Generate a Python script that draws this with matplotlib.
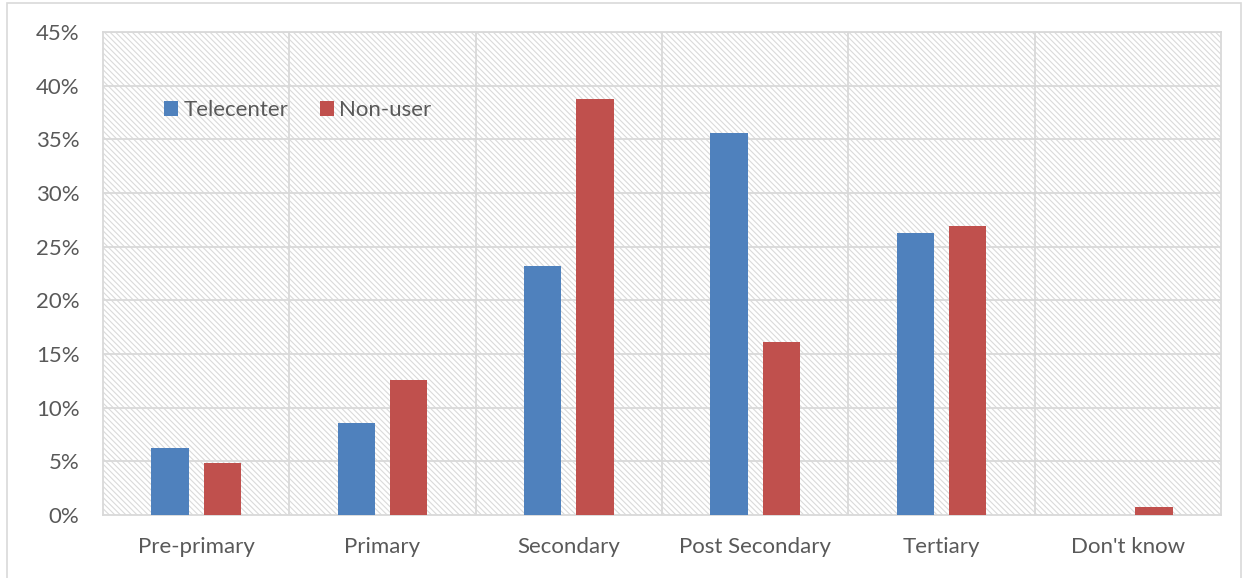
import numpy as np
import matplotlib
matplotlib.use("Agg")
import matplotlib.pyplot as plt
from matplotlib.patches import Rectangle
from matplotlib.ticker import PercentFormatter

categories = ["Pre-primary", "Primary", "Secondary", "Post Secondary", "Tertiary", "Don't know"]
telecenter = [6.2, 8.6, 23.2, 35.6, 26.3, 0.0]
non_user = [4.8, 12.6, 38.8, 16.1, 26.9, 0.7]

plt.rcParams["font.family"] = ["Lato", "DejaVu Sans"]
plt.rcParams["hatch.color"] = "#dadada"
plt.rcParams["hatch.linewidth"] = 0.8

W, H = 1244, 578
fig = plt.figure(figsize=(W / 100, H / 100), dpi=100)
ax = fig.add_axes([103 / W, 1 - 515 / H, (1221 - 103) / W, (515 - 32) / H])

# outer chart border
fig.patches.append(Rectangle((7 / W, -0.01), (1241 - 7) / W, 1 - 3 / H + 0.01,
                             transform=fig.transFigure, fill=False,
                             edgecolor="#d9d9d9", linewidth=1.2))

# hatched plot area
ax.patch.set_facecolor("white")
ax.add_patch(Rectangle((0, 0), 1, 1, transform=ax.transAxes, facecolor="white",
                       edgecolor="#dadada", hatch="\\\\\\\\\\\\", linewidth=0, zorder=0))

x = np.arange(len(categories))
w = 0.2
off = 0.14
ax.bar(x - off, telecenter, w, color="#4F81BD", label="Telecenter", zorder=3)
ax.bar(x + off, non_user, w, color="#C0504D", label="Non-user", zorder=3)

ax.set_xlim(-0.5, len(categories) - 0.5)
ax.set_ylim(0, 45)
ax.set_yticks(np.arange(0, 46, 5))
ax.yaxis.set_major_formatter(PercentFormatter(decimals=0))
ax.set_xticks(x)
ax.set_xticklabels(categories)

# gridlines: horizontal at ticks, vertical at category boundaries
for yv in np.arange(5, 46, 5):
    ax.axhline(yv, color="#d9d9d9", linewidth=1.3, zorder=1)
for xv in np.arange(0.5, len(categories) - 0.5, 1):
    ax.axvline(xv, color="#d9d9d9", linewidth=1.3, zorder=1)

for s in ax.spines.values():
    s.set_color("#d9d9d9")
    s.set_linewidth(1.3)
ax.tick_params(length=0, colors="#595959", labelsize=16)
ax.tick_params(axis="y", pad=17)
ax.tick_params(axis="x", pad=16)

leg = ax.legend(loc="upper left", bbox_to_anchor=(0.047, 0.877), ncol=2, frameon=False,
                fontsize=16, handlelength=0.6, handleheight=0.6, handletextpad=0.25,
                columnspacing=1.45, borderaxespad=0)
for t in leg.get_texts():
    t.set_color("#595959")

fig.savefig("out.png", dpi=100)
